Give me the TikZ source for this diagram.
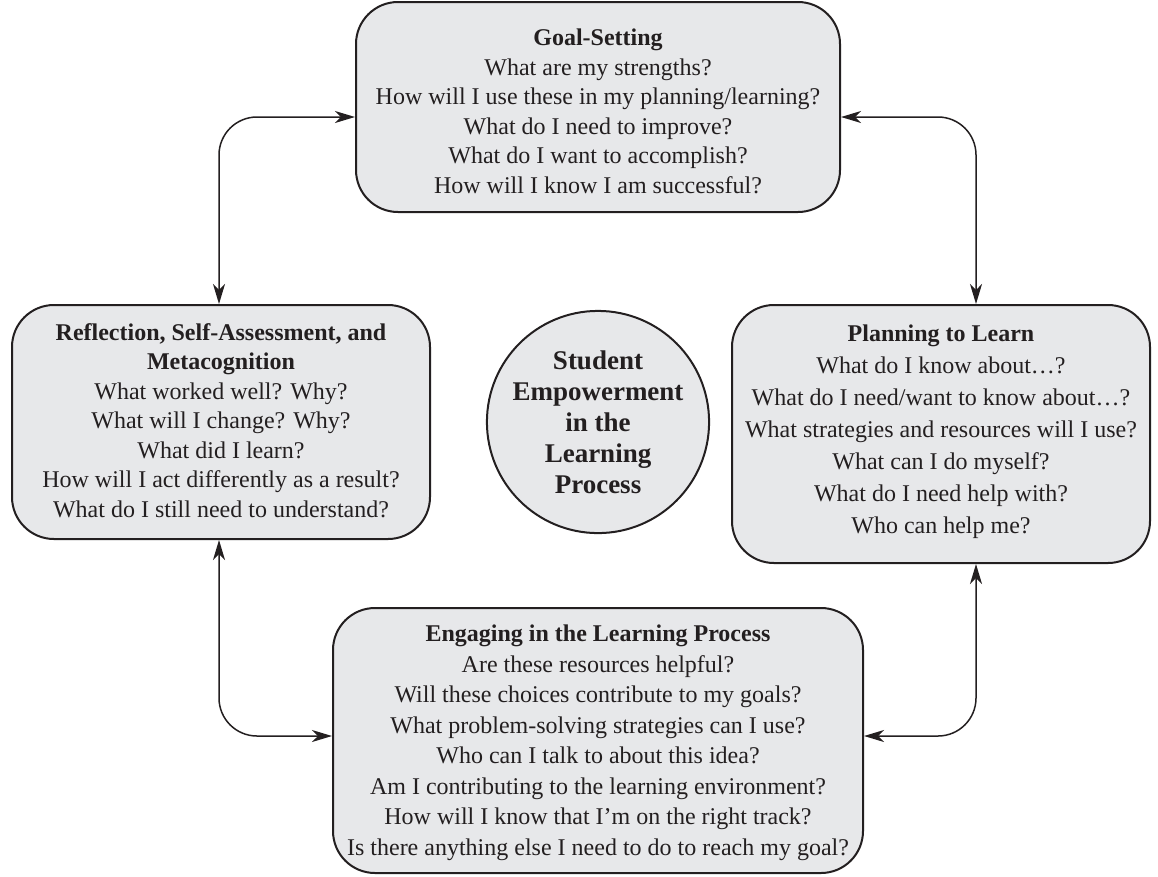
\documentclass[tikz,border=0pt]{standalone}
\usepackage{fontspec}
\setmainfont{Liberation Serif}
\usetikzlibrary{arrows.meta}
\definecolor{boxgray}{RGB}{231,232,234}
\definecolor{inkline}{RGB}{35,31,32}
\begin{document}
\begin{tikzpicture}[
		x=1pt,
		y=-1pt,
		stage/.style={draw=inkline,line width=2pt,fill=boxgray,rounded corners=42pt,inner sep=0pt},
		words/.style={align=center,inner sep=0pt,text=inkline,font=\fontsize{24}{29.5}\selectfont},
		link/.style={{Stealth[length=20pt,width=12pt,inset=6pt]}-{Stealth[length=20pt,width=12pt,inset=6pt]},draw=inkline,line width=1.5pt,rounded corners=38pt},
	]
		\useasboundingbox (0,0) rectangle (1158,876);
		
		% the four stages
		\node[stage,minimum width=484pt,minimum height=210pt] (goal) at (598,107) {};
		\node[stage,minimum width=418pt,minimum height=234pt] (refl) at (221,422) {};
		\node[stage,minimum width=418pt,minimum height=258pt] (plan) at (941,434) {};
		\node[stage,minimum width=530pt,minimum height=265pt] (engage) at (598,740.5) {};
		
		\node[words,anchor=north] (goaltxt) at ([yshift=-28pt]goal.north) {\textbf{Goal-Setting}\\What are my strengths?\\How will I use these in my planning/learning?\\What do I need to improve?\\What do I want to accomplish?\\How will I know I am successful?};
		\node[words,anchor=north] (refltxt) at ([yshift=-19pt]refl.north) {\textbf{Reflection, Self-Assessment, and}\\\textbf{Metacognition}\\What worked well? Why?\\What will I change? Why?\\What did I learn?\\How will I act differently as a result?\\What do I still need to understand?};
		\node[words,anchor=north,font=\fontsize{24}{32}\selectfont] (plantxt) at ([yshift=-21pt]plan.north) {\textbf{Planning to Learn}\\What do I know about…?\\What do I need/want to know about…?\\What strategies and resources will I use?\\What can I do myself?\\What do I need help with?\\Who can help me?};
		\node[words,anchor=north,font=\fontsize{24}{30.5}\selectfont] (engagetxt) at ([yshift=-18pt]engage.north) {\textbf{Engaging in the Learning Process}\\Are these resources helpful?\\Will these choices contribute to my goals?\\What problem-solving strategies can I use?\\Who can I talk to about this idea?\\Am I contributing to the learning environment?\\How will I know that I’m on the right track?\\Is there anything else I need to do to reach my goal?};
		
		% centre
		\node[circle,draw=inkline,line width=2pt,fill=boxgray,minimum size=208pt,inner sep=0pt,align=center,text=inkline,font=\bfseries\fontsize{27}{31}\selectfont] (hub) at (598,422) {Student\\Empowerment\\in the\\Learning\\Process};
		
		% connectors
		\coordinate (tl) at (219,117);
		\coordinate (tr) at (976,117);
		\coordinate (bl) at (219,736);
		\coordinate (br) at (976,736);
		\draw[link] (goal.west |- tl) -| (refl.north -| tl);
		\draw[link] (goal.east |- tr) -| (plan.north -| tr);
		\draw[link] (refl.south -| bl) |- (engage.west |- bl);
		\draw[link] (plan.south -| br) |- (engage.east |- br);
	\end{tikzpicture}
\end{document}
